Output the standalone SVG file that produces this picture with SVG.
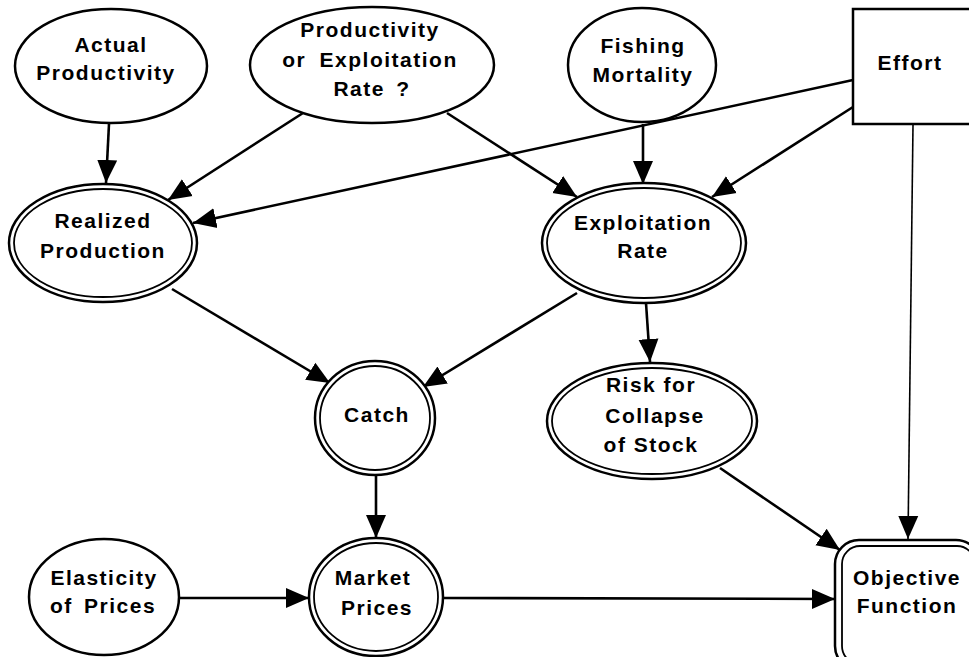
<svg xmlns="http://www.w3.org/2000/svg" width="969" height="657" viewBox="0 0 969 657">
<defs>
<style>
.n{fill:#fff;stroke:#000;stroke-width:2.5}
.in{fill:none;stroke:#000;stroke-width:1.8}
.t{font-family:"Liberation Sans",Arial,Helvetica,sans-serif;font-weight:bold;font-size:21px;letter-spacing:1.5px;text-anchor:middle;fill:#000}
.c{stroke:#000;stroke-width:2.6;fill:none;marker-end:url(#ah)}
.thin{stroke-width:1.6}
</style>
<marker id="ah" markerUnits="userSpaceOnUse" markerWidth="24" markerHeight="22" refX="23" refY="11" orient="auto">
<path d="M0,1 L23,11 L0,21 z" fill="#000"/>
</marker>
</defs>
<rect width="969" height="657" fill="#fff"/>
<g id="connectors">
<line class="c" x1="109" y1="124" x2="106" y2="183"/>
<line class="c" x1="303" y1="113" x2="168" y2="200"/>
<line class="c" x1="853" y1="80" x2="193" y2="223"/>
<line class="c" x1="447" y1="113" x2="577" y2="197"/>
<line class="c" x1="643" y1="124" x2="643" y2="184"/>
<line class="c" x1="853" y1="107" x2="712" y2="197"/>
<line class="c thin" x1="913" y1="125" x2="908" y2="539"/>
<line class="c" x1="172" y1="289" x2="330" y2="383"/>
<line class="c" x1="577" y1="293" x2="423" y2="387"/>
<line class="c" x1="646" y1="303" x2="650" y2="362"/>
<line class="c" x1="376" y1="476" x2="376" y2="538"/>
<line class="c" x1="179" y1="598" x2="309" y2="598"/>
<line class="c" x1="443" y1="598" x2="835" y2="599"/>
<line class="c" x1="720" y1="468" x2="840" y2="550"/>
</g>
<g id="actual">
<ellipse class="n" cx="111" cy="66" rx="96" ry="57"/>
<text class="t" x="111" y="52">Actual</text>
<text class="t" x="106" y="80">Productivity</text>
</g>
<g id="prodexp">
<ellipse class="n" cx="372" cy="65" rx="122" ry="58"/>
<text class="t" x="370" y="37">Productivity</text>
<text class="t" x="370" y="67" style="word-spacing:6px">or Exploitation</text>
<text class="t" x="372" y="96" style="word-spacing:4px">Rate ?</text>
</g>
<g id="fishing">
<ellipse class="n" cx="642" cy="65" rx="74" ry="57"/>
<text class="t" x="643" y="53">Fishing</text>
<text class="t" x="643" y="82">Mortality</text>
</g>
<g id="effort">
<rect class="n" x="853" y="9" width="125" height="115"/>
<text class="t" x="910" y="70">Effort</text>
</g>
<g id="realized">
<ellipse class="n" cx="103" cy="243" rx="94" ry="59"/>
<ellipse class="in" cx="103" cy="243" rx="89" ry="54"/>
<text class="t" x="103" y="228">Realized</text>
<text class="t" x="103" y="258">Production</text>
</g>
<g id="exploitation">
<ellipse class="n" cx="644" cy="243" rx="102" ry="60"/>
<ellipse class="in" cx="644" cy="243" rx="97" ry="55"/>
<text class="t" x="643" y="230">Exploitation</text>
<text class="t" x="643" y="258">Rate</text>
</g>
<g id="catch">
<ellipse class="n" cx="375" cy="418" rx="60" ry="57"/>
<ellipse class="in" cx="375" cy="418" rx="55" ry="52"/>
<text class="t" x="377" y="422">Catch</text>
</g>
<g id="risk">
<ellipse class="n" cx="652" cy="421" rx="105" ry="58"/>
<ellipse class="in" cx="652" cy="421" rx="100" ry="53"/>
<text class="t" x="651" y="392">Risk for</text>
<text class="t" x="655" y="423">Collapse</text>
<text class="t" x="651" y="452">of Stock</text>
</g>
<g id="elasticity">
<ellipse class="n" cx="104" cy="597" rx="75" ry="58"/>
<text class="t" x="104" y="585">Elasticity</text>
<text class="t" x="103" y="613" style="word-spacing:4px">of Prices</text>
</g>
<g id="market">
<ellipse class="n" cx="376" cy="597" rx="67" ry="59"/>
<ellipse class="in" cx="376" cy="597" rx="62" ry="54"/>
<text class="t" x="373" y="585">Market</text>
<text class="t" x="377" y="615">Prices</text>
</g>
<g id="objective">
<rect class="n" x="835" y="540" width="145" height="130" rx="24"/>
<rect class="in" x="842" y="546" width="133" height="118" rx="18"/>
<text class="t" x="907" y="585">Objective</text>
<text class="t" x="907" y="613">Function</text>
</g>
</svg>
